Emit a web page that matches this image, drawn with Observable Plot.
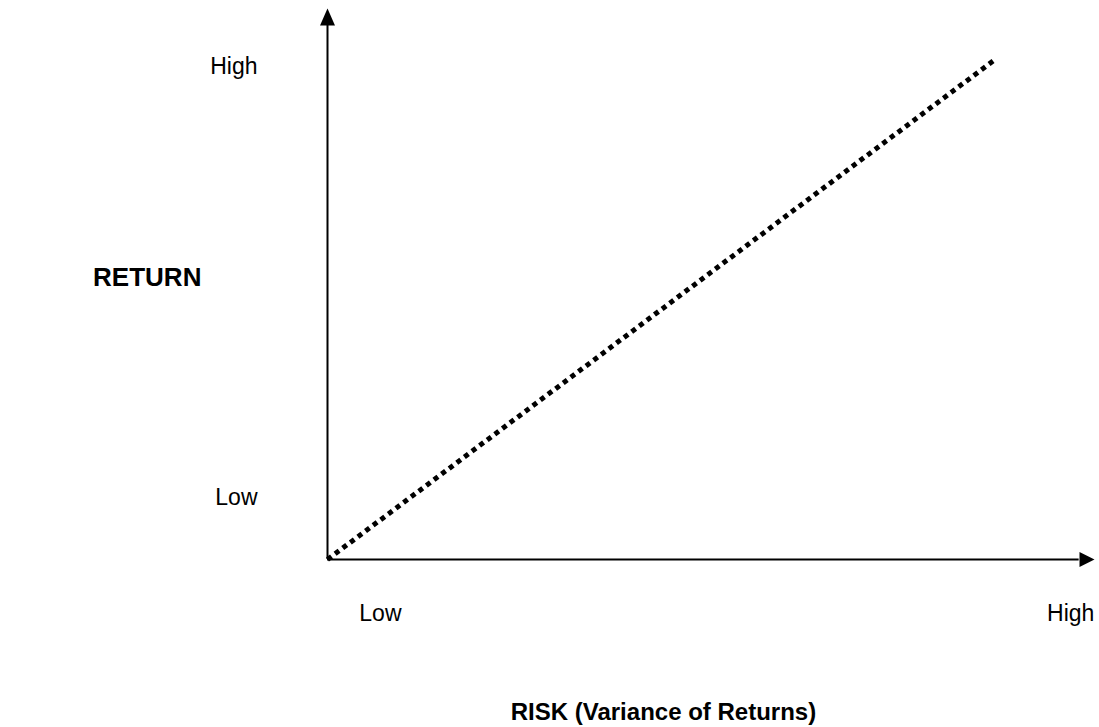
<!DOCTYPE html>
<html>
<head>
<meta charset="utf-8">
<script src="https://cdn.jsdelivr.net/npm/d3@7"></script>
<script src="https://cdn.jsdelivr.net/npm/@observablehq/plot@0.6"></script>
<style>
  html, body { margin: 0; padding: 0; background: #fff; }
  #chart svg { display: block; }
</style>
</head>
<body>
<div id="chart"></div>
<script>
// Data
const riskValues = [0, 87];          // x: risk (arbitrary scale 0-100)
const returnValues = [0, 90.7];      // y: return (arbitrary scale 0-100)
const xTickValues = [6.9, 96.9];
const xTickLabels = ["Low", "High"];
const yTickValues = [11.3, 89.5];
const yTickLabels = ["Low", "High"];
const xTitle = "RISK (Variance of Returns)";
const yTitle = "RETURN";

const lineData = riskValues.map((x, i) => ({x, y: returnValues[i]}));

const arrowUp = {
  draw(ctx) { ctx.moveTo(0, 0); ctx.lineTo(-7.5, 17); ctx.lineTo(7.5, 17); ctx.closePath(); }
};
const arrowRight = {
  draw(ctx) { ctx.moveTo(0, 0); ctx.lineTo(-15, -7.5); ctx.lineTo(-15, 7.5); ctx.closePath(); }
};

const font = "'Liberation Sans', Arial, Helvetica, sans-serif";

const chart = Plot.plot({
  width: 1099,
  height: 727,
  marginLeft: 327,
  marginRight: 5,
  marginTop: 8,
  marginBottom: 168,
  style: { fontFamily: font, background: "#fff", color: "#000", overflow: "visible" },
  x: { domain: [0, 100] },
  y: { domain: [0, 100] },
  marks: [
    Plot.axisX({
      ticks: xTickValues,
      tickFormat: (d, i) => xTickLabels[i],
      tickSize: 0,
      tickPadding: 45,
      fontSize: 23,
      label: null,
      fill: "#000"
    }),
    Plot.axisY({
      ticks: yTickValues,
      tickFormat: (d, i) => yTickLabels[i],
      tickSize: 0,
      tickPadding: 70,
      fontSize: 23,
      label: null,
      fill: "#000"
    }),
    // axes lines
    Plot.ruleX([0], { y1: 0, y2: 97, stroke: "#000", strokeWidth: 2 }),
    Plot.ruleY([0], { x1: 0, x2: 98, stroke: "#000", strokeWidth: 2 }),
    // arrowheads
    Plot.dot([{x: 0, y: 100}], { x: "x", y: "y", symbol: arrowUp, r: 5, fill: "#000", stroke: null }),
    Plot.dot([{x: 100, y: 0}], { x: "x", y: "y", symbol: arrowRight, r: 5, fill: "#000", stroke: null }),
    // dotted risk-return line
    Plot.line(lineData, { x: "x", y: "y", stroke: "#000", strokeWidth: 5, strokeDasharray: "5,4.5", strokeLinecap: "butt" }),
    // titles
    Plot.text([yTitle], { x: -23.5, y: 51.2, text: d => d, fontSize: 26, fontWeight: "bold", fill: "#000" }),
    Plot.text([xTitle], { x: 43.8, y: -27.8, text: d => d, fontSize: 24, fontWeight: "bold", fill: "#000" })
  ]
});

document.getElementById("chart").appendChild(chart);
</script>
</body>
</html>
